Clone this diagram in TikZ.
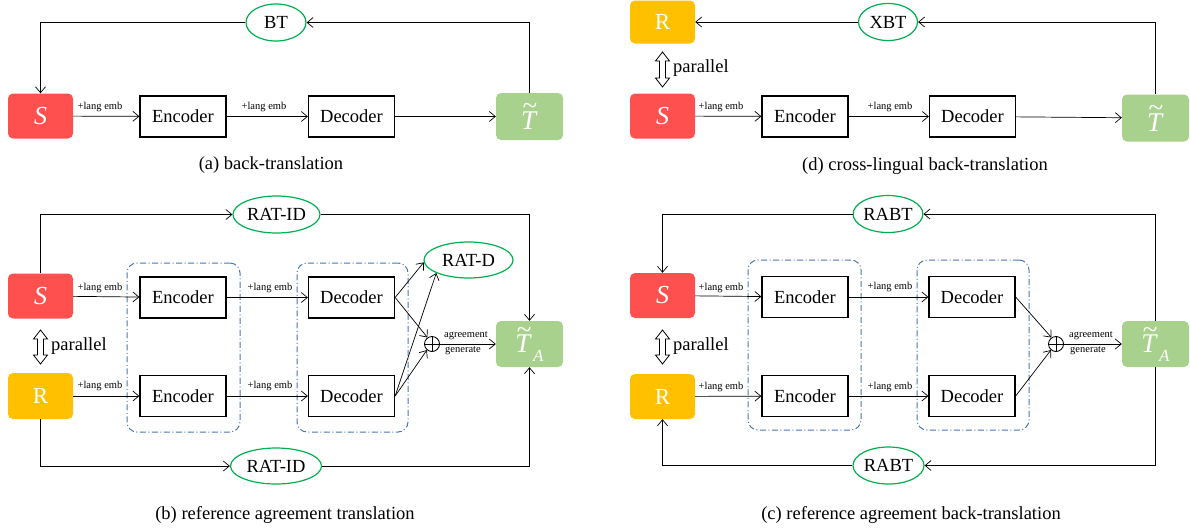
\documentclass[tikz,border=0pt]{standalone}
\usepackage{fontspec}
\setmainfont{Liberation Serif}
\usetikzlibrary{arrows.meta,shapes.geometric,calc}
\definecolor{sred}{HTML}{FF5050}
\definecolor{rorange}{HTML}{FFC000}
\definecolor{tgreen}{HTML}{A9D18E}
\definecolor{ogreen}{HTML}{00B050}
\definecolor{gblue}{HTML}{4A76B0}
\newcommand{\Ttil}{\textit{T}\llap{\raisebox{0.55em}{\textasciitilde}\kern0.02em}}
\newcommand{\TAsub}{\Ttil\kern1pt\raisebox{-0.3em}{\fontsize{17}{17}\selectfont\textit{A}}}
\newcommand{\dblarrow}[3]{\draw[line width=0.8pt, line join=miter] (#1-3,#2+9) -- (#1-3,#3-9) -- (#1-7,#3-9) -- (#1,#3) -- (#1+7,#3-9) -- (#1+3,#3-9) -- (#1+3,#2+9) -- (#1+7,#2+9) -- (#1,#2) -- (#1-7,#2+9) -- cycle;}
\begin{document}
\begin{tikzpicture}[x=1pt,y=-1pt,
  every node/.style={font=\fontsize{18.5}{20}\selectfont, inner sep=0pt},
  cbox/.style={rounded corners=5pt, minimum width=65pt, minimum height=45pt, text=white},
  sbox/.style={cbox, fill=sred, font=\fontsize{26}{26}\selectfont\itshape},
  rbox/.style={cbox, fill=rorange, font=\fontsize{23}{23}\selectfont},
  tbox/.style={cbox, fill=tgreen, minimum width=67pt, minimum height=47pt, font=\fontsize{27}{27}\selectfont},
  modbox/.style={draw, line width=1.3pt, minimum width=86pt, minimum height=41pt},
  oval/.style={ellipse, draw=ogreen, line width=1.2pt},
  grp/.style={draw=gblue, line width=1pt, rounded corners=10pt, dash pattern=on 6pt off 2.5pt on 1pt off 2.5pt},
  arr/.style={-{Straight Barb[length=6pt,width=10pt]}, line width=0.7pt},
  emb/.style={font=\fontsize{10.5}{12}\selectfont},
  captext/.style={font=\fontsize{18.5}{20}\selectfont},
  plus/.style={circle, draw, line width=0.9pt, minimum size=15pt},
]
\useasboundingbox (0,0) rectangle (1190,531);

% ---------------- (a) ----------------
\node[sbox] (Sa) at (40.5,116) {S};
\node[modbox] (Ea) at (183,116.5) {Encoder};
\node[modbox] (Da) at (351.5,116.5) {Decoder};
\node[tbox] (Ta) at (529.5,116.5) {\Ttil};
\node[oval, minimum width=60pt, minimum height=37pt] (BTa) at (276,22.5) {BT};
\draw[arr] (Sa) -- (Ea);
\draw[arr] (Ea) -- (Da);
\draw[arr] (Da) -- (Ta);
\draw[arr] (Ta.north) |- (BTa.east);
\draw[arr] (BTa.west) -| (Sa.north);
\node[emb] (la1) at (100,107) {+lang emb};
\node[emb] (la2) at (264,107) {+lang emb};
\node[captext] (capa) at (271,165) {(a) back-translation};

% ---------------- (d) ----------------
\node[rbox, minimum height=43pt] (Rd) at (662.5,22) {R};
\node[oval, minimum width=59pt, minimum height=37pt] (XBTd) at (888,22) {XBT};
\node[sbox] (Sd) at (662.5,116) {S};
\node[modbox] (Ed) at (805,116.5) {Encoder};
\node[modbox] (Dd) at (972.5,116.5) {Decoder};
\node[tbox] (Td) at (1155.5,118) {\Ttil};
\draw[arr] (Sd) -- (Ed);
\draw[arr] (Ed) -- (Dd);
\draw[arr] (Dd) -- (Td);
\draw[arr] (Td.north) |- (XBTd.east);
\draw[arr] (XBTd.west) -- (Rd.east);
\dblarrow{662.5}{52}{87}
\node[anchor=west] (pd) at (673,68) {parallel};
\node[emb] (ld1) at (721,107) {+lang emb};
\node[emb] (ld2) at (890,107) {+lang emb};
\node[captext] (capd) at (925,166) {(d) cross-lingual back-translation};

% ---------------- (b) ----------------
\node[grp, minimum width=113pt, minimum height=169pt] (Gb1) at (183.5,347.5) {};
\node[grp, minimum width=111pt, minimum height=169pt] (Gb2) at (352.5,347.5) {};
\node[sbox] (Sb) at (40.5,296) {S};
\node[rbox, minimum height=46pt] (Rb) at (40.5,396) {R};
\node[modbox] (Eb1) at (183,297.5) {Encoder};
\node[modbox] (Eb2) at (183,396) {Encoder};
\node[modbox] (Db1) at (351.5,297.5) {Decoder};
\node[modbox] (Db2) at (351.5,396) {Decoder};
\node[oval, minimum width=87pt, minimum height=37pt] (RIDb1) at (276.5,214.5) {RAT-ID};
\node[oval, minimum width=91pt, minimum height=36pt] (RIDb2) at (276,466) {RAT-ID};
\node[oval, minimum width=89pt, minimum height=36pt] (RDb) at (468.5,260) {RAT-D};
\node[plus] (Ob) at (432,344) {};
\draw[line width=0.9pt] (Ob.north) -- (Ob.south) (Ob.west) -- (Ob.east);
\node[tbox, minimum height=46pt] (TAb) at (529.5,344) {\TAsub};
\draw[arr] (Sb) -- (Eb1);
\draw[arr] (Rb) -- (Eb2);
\draw[arr] (Eb1) -- (Db1);
\draw[arr] (Eb2) -- (Db2);
\draw[arr] (Db1.east) -- (RDb.183);
\draw[arr] (Db1.east) -- (Ob.125);
\draw[arr] (Db2.east) -- (RDb.202);
\draw[arr] (Db2.east) -- (Ob.230);
\draw[arr] (Ob.east) -- (TAb.west);
\draw[arr] (Sb.north) |- (RIDb1.west);
\draw[arr] (RIDb1.east) -| (TAb.north);
\draw[arr] (Rb.south) |- (RIDb2.west);
\draw[arr] (RIDb2.east) -| (TAb.south);
\dblarrow{40.5}{330}{364}
\node[anchor=west] (pb) at (51,346) {parallel};
\node[emb] (lb1) at (100,288) {+lang emb};
\node[emb] (lb2) at (270,288) {+lang emb};
\node[emb] (lb3) at (100,386) {+lang emb};
\node[emb] (lb4) at (270,386) {+lang emb};
\node[emb] (agb) at (466,336) {agreement};
\node[emb] (geb) at (463,351) {generate};
\node[captext] (capb) at (285,515) {(b) reference agreement translation};

% ---------------- (c) ----------------
\node[grp, minimum width=113pt, minimum height=170pt] (Gc1) at (804.5,345) {};
\node[grp, minimum width=112pt, minimum height=170pt] (Gc2) at (973,345) {};
\node[sbox] (Sc) at (662.5,295.5) {S};
\node[rbox] (Rc) at (662.5,396.5) {R};
\node[modbox] (Ec1) at (805,297) {Encoder};
\node[modbox] (Ec2) at (805,396) {Encoder};
\node[modbox] (Dc1) at (972,297) {Decoder};
\node[modbox] (Dc2) at (972,396) {Decoder};
\node[oval, minimum width=68pt, minimum height=37pt] (RBc1) at (888,214) {RABT};
\node[oval, minimum width=71pt, minimum height=37pt] (RBc2) at (888.5,465.5) {RABT};
\node[plus] (Oc) at (1056,344) {};
\draw[line width=0.9pt] (Oc.north) -- (Oc.south) (Oc.west) -- (Oc.east);
\node[tbox, minimum height=46pt] (TAc) at (1155.5,344) {\TAsub};
\draw[arr] (Sc) -- (Ec1);
\draw[arr] (Rc) -- (Ec2);
\draw[arr] (Ec1) -- (Dc1);
\draw[arr] (Ec2) -- (Dc2);
\draw[arr] (Dc1.east) -- (Oc.125);
\draw[arr] (Dc2.east) -- (Oc.230);
\draw[arr] (Oc.east) -- (TAc.west);
\draw[arr] (TAc.north) |- (RBc1.east);
\draw[arr] (RBc1.west) -| (Sc.north);
\draw[arr] (TAc.south) |- (RBc2.east);
\draw[arr] (RBc2.west) -| (Rc.south);
\dblarrow{662.5}{330}{364}
\node[anchor=west] (pc) at (673,346) {parallel};
\node[emb] (lc1) at (721,288) {+lang emb};
\node[emb] (lc2) at (890,287) {+lang emb};
\node[emb] (lc3) at (721,387) {+lang emb};
\node[emb] (lc4) at (890,387) {+lang emb};
\node[emb] (agc) at (1091,336) {agreement};
\node[emb] (gec) at (1088,351) {generate};
\node[captext] (capc) at (911,515) {(c) reference agreement back-translation};
\end{tikzpicture}
\end{document}
